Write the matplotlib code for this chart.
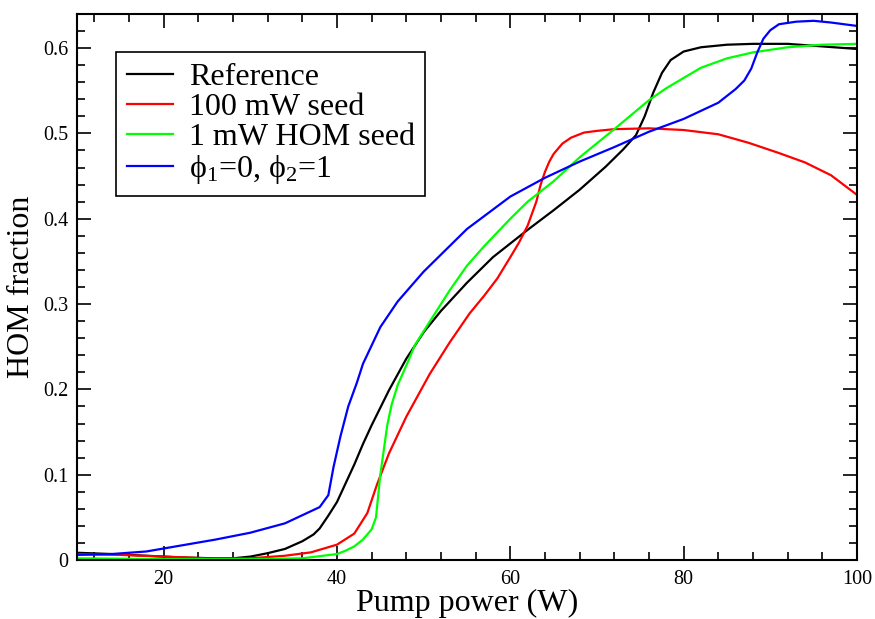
import numpy as np
import matplotlib
matplotlib.use("Agg")
import matplotlib.pyplot as plt
from matplotlib.ticker import MultipleLocator

plt.rcParams['font.family'] = ['Liberation Serif', 'DejaVu Serif']
plt.rcParams['mathtext.fontset'] = 'custom'
plt.rcParams['mathtext.rm'] = 'Liberation Serif'
plt.rcParams['mathtext.it'] = 'Liberation Serif:italic'

# Reference
x_ref = [10, 14, 18, 22, 26, 28, 30, 32, 34, 36, 37.3, 38, 39, 40, 41, 42, 43, 44, 46,
         48, 50, 52, 55, 58, 62, 65, 68, 71, 73, 74.5, 75.5, 76.5, 77.5, 78.5, 80, 82,
         85, 88, 92, 96, 100]
y_ref = [0.0085, 0.007, 0.005, 0.003, 0.002, 0.002, 0.004, 0.008, 0.013, 0.022, 0.030,
         0.037, 0.052, 0.068, 0.090, 0.112, 0.136, 0.158, 0.199, 0.236, 0.267, 0.292,
         0.325, 0.355, 0.387, 0.410, 0.434, 0.461, 0.481, 0.498, 0.520, 0.548, 0.571,
         0.586, 0.596, 0.601, 0.604, 0.605, 0.605, 0.602, 0.599]

# 100 mW seed
x_red = [10, 15, 20, 25, 30, 34, 37, 40, 42, 43.5, 44.6, 46, 48, 50.7, 53, 55.3, 57,
         58.5, 60, 61, 62, 63, 63.5, 64, 64.5, 65, 66, 67, 68.5, 70, 72, 76, 80, 84,
         87.5, 91, 94, 97, 100]
y_red = [0.007, 0.006, 0.004, 0.002, 0.002, 0.005, 0.009, 0.018, 0.031, 0.055, 0.088,
         0.125, 0.168, 0.218, 0.255, 0.289, 0.310, 0.330, 0.355, 0.372, 0.392, 0.420,
         0.440, 0.455, 0.467, 0.476, 0.488, 0.495, 0.501, 0.503, 0.505, 0.506, 0.504,
         0.499, 0.489, 0.477, 0.466, 0.451, 0.428]

# 1 mW HOM seed
x_grn = [10, 20, 30, 36, 40, 41, 42, 43, 44, 44.5, 44.8, 45, 45.4, 45.8, 46.3, 47, 48,
         49, 50.3, 53, 55, 57, 60, 62, 65, 68, 72, 76, 78, 82, 85, 88, 92, 96, 100]
y_grn = [0.002, 0.001, 0.001, 0.002, 0.007, 0.011, 0.016, 0.024, 0.036, 0.050, 0.080,
         0.100, 0.129, 0.158, 0.182, 0.205, 0.228, 0.252, 0.273, 0.316, 0.345, 0.368,
         0.400, 0.420, 0.444, 0.472, 0.505, 0.539, 0.553, 0.577, 0.588, 0.595, 0.601,
         0.604, 0.605]

# phi1=0, phi2=1
x_blu = [10, 14, 18, 22, 26, 30, 34, 38, 39, 39.6, 40.4, 41.3, 42.3, 43, 45, 47, 50, 55,
         60, 64, 68, 72, 76, 80, 84, 86, 87, 87.8, 88.5, 89.2, 90, 91, 93, 95, 97, 100]
y_blu = [0.006, 0.007, 0.010, 0.017, 0.024, 0.032, 0.043, 0.062, 0.076, 0.109, 0.145,
         0.180, 0.208, 0.230, 0.273, 0.303, 0.338, 0.388, 0.426, 0.448, 0.467, 0.484,
         0.502, 0.517, 0.536, 0.552, 0.562, 0.576, 0.595, 0.611, 0.621, 0.628, 0.631,
         0.632, 0.630, 0.626]

labels = ['Reference', '100 mW seed', '1 mW HOM seed', 'ϕ$_1$=0, ϕ$_2$=1']
colors = ['black', '#ff0000', '#00ff00', '#0000ff']

fig = plt.figure(figsize=(8.75, 6.19), dpi=100)
ax = fig.add_axes([0.088, 0.0953, 0.8914, 0.8821])

for xs, ys, lab, c in zip([x_ref, x_red, x_grn, x_blu], [y_ref, y_red, y_grn, y_blu],
                          labels, colors):
    ax.plot(xs, ys, color=c, lw=1.6, label=lab)

ax.set_xlim(10, 100)
ax.set_ylim(0, 0.64)
ax.xaxis.set_major_locator(MultipleLocator(20))
ax.xaxis.set_minor_locator(MultipleLocator(4))
ax.yaxis.set_major_locator(MultipleLocator(0.1))
ax.yaxis.set_minor_locator(MultipleLocator(0.02))
ax.set_yticks([0, 0.1, 0.2, 0.3, 0.4, 0.5, 0.6])
ax.set_yticklabels(['0', '0.1', '0.2', '0.3', '0.4', '0.5', '0.6'])
ax.tick_params(which='both', direction='in', top=True, right=True, labelsize=14.5, width=1.2)
ax.tick_params(which='major', length=10, pad=6)
ax.tick_params(which='minor', length=5.5)
ax.tick_params(axis='x', which='major', pad=7)
for s in ax.spines.values():
    s.set_linewidth(1.5)

ax.set_xlabel('Pump power (W)', fontsize=23, labelpad=0)
ax.set_ylabel('HOM fraction', fontsize=23, labelpad=5)

leg = ax.legend(loc='upper left', bbox_to_anchor=(0.05, 0.93), borderaxespad=0,
                fontsize=23, fancybox=False, framealpha=1, edgecolor='black',
                handlelength=1.45, handletextpad=0.5, labelspacing=0.02,
                borderpad=0.33)
leg.get_frame().set_linewidth(1.2)

fig.savefig('out.png', dpi=100)
